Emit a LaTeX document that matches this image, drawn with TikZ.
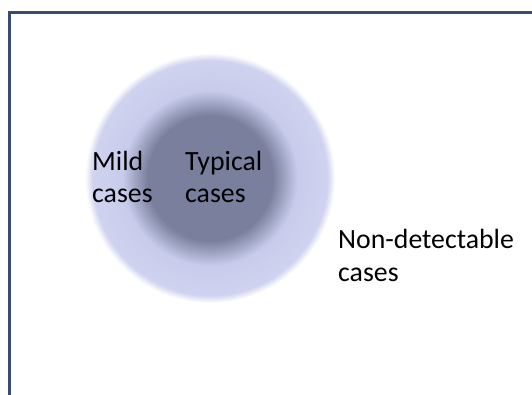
\documentclass[tikz,border=0pt]{standalone}
\usepackage{fontspec}
\setmainfont{Carlito}
\definecolor{core}{HTML}{7A7F9E}
\definecolor{pale}{HTML}{C8CBEB}
\definecolor{pale2}{HTML}{D0D3EF}
\definecolor{frame}{HTML}{3B4A70}
\pgfdeclareradialshading{blob}{\pgfpoint{0bp}{0bp}}{color(0bp)=(core); color(12.5bp)=(core); color(17.5bp)=(pale); color(23.5bp)=(pale2); color(25bp)=(white); color(50bp)=(white)}
\tikzset{lbl/.style={inner sep=0pt, align=left, anchor=base west, font=\fontsize{27.8pt}{32.5pt}\selectfont, text=black}}
\begin{document}
\begin{tikzpicture}[x=1pt,y=1pt]
\useasboundingbox (0,0) rectangle (532,-395);
\fill[white] (0,0) rectangle (532,-395);
\shade[shading=blob] (210,-178) circle (125);
\draw[frame, line width=3pt] (9.5,-395) -- (9.5,-12.5) -- (532,-12.5);
\node[lbl] (mild) at (92,-203) {Mild\\cases};
\node[lbl] (typ) at (185,-203) {Typical\\cases};
\node[lbl] (non) at (338,-281) {Non-detectable\\cases};
\end{tikzpicture}
\end{document}
